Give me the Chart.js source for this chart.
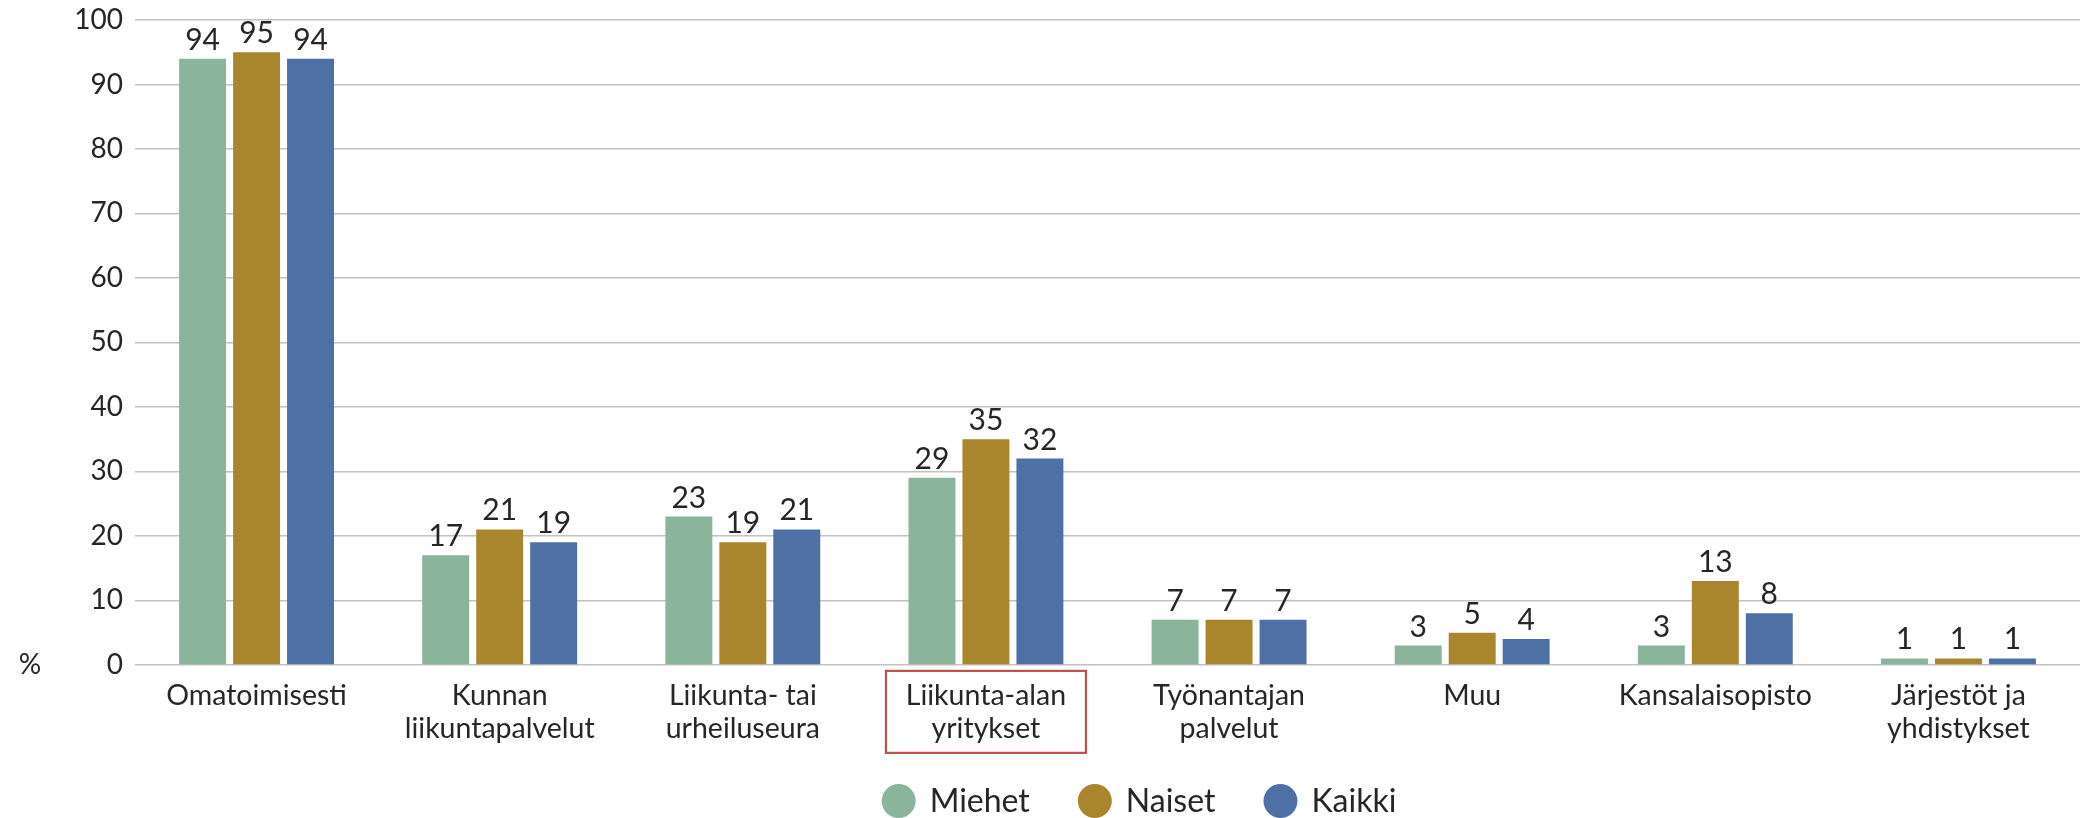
<!DOCTYPE html>
<html><head><meta charset="utf-8">
<script src="https://cdn.jsdelivr.net/npm/chart.js@4.4.1/dist/chart.umd.min.js"></script>
<style>html,body{margin:0;padding:0;background:#fff;}#wrap{width:2080px;height:818px;}</style>
</head><body><div id="wrap"><canvas id="c" width="2080" height="818"></canvas></div>
<script>
const categories = [["Omatoimisesti"], ["Kunnan", "liikuntapalvelut"], ["Liikunta- tai", "urheiluseura"], ["Liikunta-alan", "yritykset"], ["Työnantajan", "palvelut"], ["Muu"], ["Kansalaisopisto"], ["Järjestöt ja", "yhdistykset"]];
const miehet = [94, 17, 23, 29, 7, 3, 3, 1];
const naiset = [95, 21, 19, 35, 7, 5, 13, 1];
const kaikki = [94, 19, 21, 32, 7, 4, 8, 1];
const seriesNames = ["Miehet", "Naiset", "Kaikki"];
const yTicks = [0, 10, 20, 30, 40, 50, 60, 70, 80, 90, 100];
const yUnit = "%";
const highlightedCategory = 3;

const colors = ["#8AB59B", "#A9862E", "#4F70A5"];
const FONT = "Lato";
const TXT = "#262626";

const valueLabels = {
  id: 'valueLabels',
  afterDatasetsDraw(chart) {
    const ctx = chart.ctx;
    ctx.save();
    ctx.font = `30px ${FONT}`;
    ctx.fillStyle = TXT;
    ctx.textAlign = 'center';
    ctx.textBaseline = 'alphabetic';
    chart.data.datasets.forEach((ds, i) => {
      const meta = chart.getDatasetMeta(i);
      meta.data.forEach((el, j) => {
        ctx.fillText(String(ds.data[j]), el.x, el.y - 9);
      });
    });
    ctx.restore();
  }
};

const extras = {
  id: 'extras',
  afterDraw(chart) {
    const ctx = chart.ctx;
    const ys = chart.scales.y, xs = chart.scales.x;
    ctx.save();
    ctx.font = `28px ${FONT}`;
    ctx.fillStyle = TXT;
    ctx.textAlign = 'center';
    ctx.textBaseline = 'middle';
    ctx.fillText(yUnit, 30, ys.getPixelForValue(0));
    const cx = xs.getPixelForValue(highlightedCategory);
    ctx.strokeStyle = '#C0504D';
    ctx.lineWidth = 2.2;
    ctx.strokeRect(cx - 100, xs.top + 6, 200, 82);
    ctx.font = `32px ${FONT}`;
    const r = 17, gapTxt = 14, gapItem = 48;
    const widths = seriesNames.map(n => ctx.measureText(n).width);
    let total = 0;
    widths.forEach((w, i) => { total += 2 * r + gapTxt + w + (i < widths.length - 1 ? gapItem : 0); });
    let x = 1139 - total / 2;
    const ly = 801;
    ctx.textAlign = 'left';
    seriesNames.forEach((n, i) => {
      ctx.beginPath();
      ctx.fillStyle = colors[i];
      ctx.arc(x + r, ly, r, 0, Math.PI * 2);
      ctx.fill();
      ctx.fillStyle = TXT;
      ctx.fillText(n, x + 2 * r + gapTxt, ly + 1);
      x += 2 * r + gapTxt + widths[i] + gapItem;
    });
    ctx.restore();
  }
};

const seriesData = [miehet, naiset, kaikki];
new Chart(document.getElementById('c'), {
  type: 'bar',
  data: {
    labels: categories,
    datasets: seriesNames.map((n, i) => ({
      label: n,
      data: seriesData[i],
      backgroundColor: colors[i],
      borderWidth: 0,
      categoryPercentage: 0.666,
      barPercentage: 0.87
    }))
  },
  options: {
    responsive: false,
    animation: false,
    layout: { padding: { top: 20, right: 0, bottom: 59, left: 0 } },
    plugins: { legend: { display: false }, tooltip: { enabled: false } },
    scales: {
      x: {
        grid: { display: false, drawTicks: false },
        border: { display: false },
        ticks: { padding: 14, color: TXT, font: { family: FONT, size: 28.5, lineHeight: 1.16 }, maxRotation: 0, autoSkip: false }
      },
      y: {
        min: yTicks[0], max: yTicks[yTicks.length - 1],
        afterFit(scale) { scale.width = 135; scale.paddingTop = 0; },
        afterBuildTicks(scale) { scale.ticks = yTicks.map(v => ({ value: v })); },
        grid: { color: '#C2C2C2', lineWidth: 1.4, drawTicks: false },
        border: { display: false },
        ticks: { padding: 12, color: TXT, font: { family: FONT, size: 28 } }
      }
    }
  },
  plugins: [valueLabels, extras]
});
</script></body></html>
